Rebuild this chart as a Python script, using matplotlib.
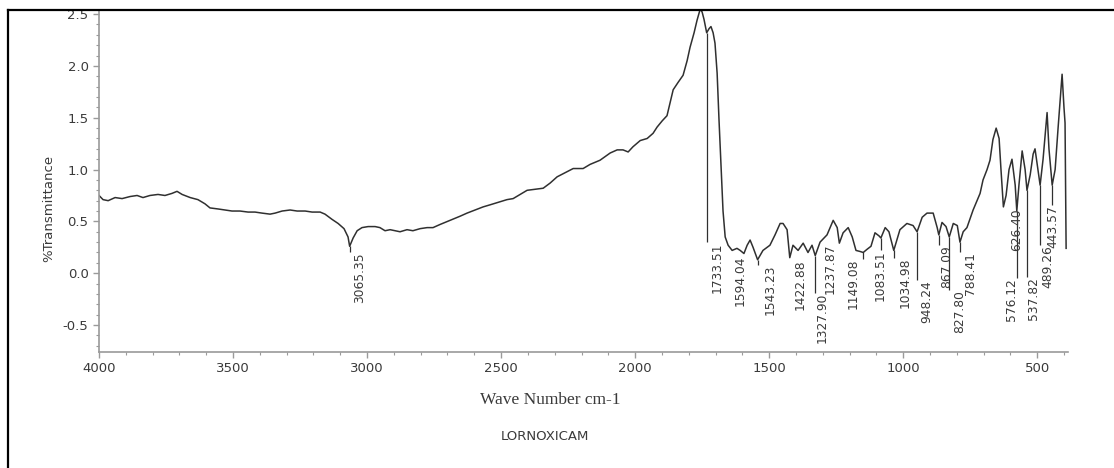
import matplotlib
matplotlib.use('Agg')
import matplotlib.pyplot as plt
from matplotlib.lines import Line2D
import numpy as np

# spectrum (wavenumber cm-1, %T)
wavenumber = [
    4000, 3985, 3966, 3940, 3914, 3884, 3858, 3836, 3810, 3780, 3754, 3728, 3709, 3690,
    3660, 3631, 3605, 3586, 3556, 3530, 3504, 3474, 3444, 3418, 3392, 3362, 3343, 3317,
    3287, 3261, 3231, 3205, 3175, 3157, 3131, 3108, 3086, 3071, 3065, 3052, 3037, 3019,
    2996, 2970, 2952, 2933, 2914, 2896, 2877, 2851, 2829, 2802, 2776, 2754, 2728, 2690,
    2653, 2627, 2597, 2567, 2541, 2504, 2478, 2455, 2429, 2403, 2373, 2343, 2317, 2291,
    2261, 2231, 2194, 2168, 2131, 2093, 2067, 2045, 2026, 2008, 1981, 1955, 1933, 1918,
    1899, 1881, 1869, 1858, 1840, 1821, 1806, 1795, 1780, 1769, 1757, 1750, 1743, 1733,
    1724, 1717, 1709, 1702, 1694, 1687, 1679, 1672, 1664, 1653, 1638, 1620, 1608, 1594,
    1582, 1571, 1560, 1543, 1523, 1497, 1478, 1459, 1448, 1433, 1423, 1411, 1392, 1373,
    1355, 1340, 1328, 1310, 1284, 1261, 1246, 1238, 1224, 1205, 1190, 1176, 1161, 1149,
    1135, 1120, 1105, 1090, 1083, 1067, 1053, 1035, 1012, 986, 963, 948, 929, 911,
    888, 873, 867, 855, 840, 828, 813, 798, 788, 776, 762, 739, 713, 702,
    687, 676, 665, 653, 642, 635, 626, 616, 605, 594, 582, 576, 568, 556,
    545, 538, 526, 515, 508, 500, 489, 478, 463, 456, 444, 433, 422, 407,
    400, 396, 392,
]
transmittance = [
    0.75, 0.71, 0.70, 0.73, 0.72, 0.74, 0.75, 0.73, 0.75, 0.76, 0.75, 0.77, 0.79, 0.76,
    0.73, 0.71, 0.67, 0.63, 0.62, 0.61, 0.60, 0.60, 0.59, 0.59, 0.58, 0.57, 0.58, 0.60,
    0.61, 0.60, 0.60, 0.59, 0.59, 0.57, 0.52, 0.48, 0.43, 0.35, 0.26, 0.34, 0.41, 0.44,
    0.45, 0.45, 0.44, 0.41, 0.42, 0.41, 0.40, 0.42, 0.41, 0.43, 0.44, 0.44, 0.47, 0.51,
    0.55, 0.58, 0.61, 0.64, 0.66, 0.69, 0.71, 0.72, 0.76, 0.80, 0.81, 0.82, 0.87, 0.93,
    0.97, 1.01, 1.01, 1.05, 1.09, 1.16, 1.19, 1.19, 1.17, 1.22, 1.28, 1.30, 1.35, 1.41,
    1.47, 1.52, 1.65, 1.77, 1.84, 1.91, 2.05, 2.18, 2.32, 2.44, 2.55, 2.52, 2.45, 2.32,
    2.36, 2.38, 2.32, 2.22, 1.93, 1.48, 1.00, 0.60, 0.35, 0.27, 0.22, 0.24, 0.22, 0.19,
    0.27, 0.32, 0.25, 0.13, 0.22, 0.27, 0.37, 0.48, 0.48, 0.42, 0.15, 0.27, 0.22, 0.29,
    0.20, 0.27, 0.17, 0.30, 0.37, 0.51, 0.44, 0.29, 0.39, 0.44, 0.35, 0.22, 0.21, 0.20,
    0.23, 0.26, 0.39, 0.36, 0.34, 0.44, 0.40, 0.22, 0.42, 0.48, 0.46, 0.40, 0.54, 0.58,
    0.58, 0.44, 0.37, 0.49, 0.45, 0.35, 0.48, 0.46, 0.30, 0.40, 0.44, 0.61, 0.77, 0.90,
    1.00, 1.09, 1.29, 1.40, 1.30, 1.00, 0.64, 0.75, 1.00, 1.10, 0.85, 0.60, 0.85, 1.18,
    1.00, 0.80, 0.95, 1.15, 1.20, 1.05, 0.85, 1.10, 1.55, 1.20, 0.85, 1.00, 1.40, 1.92,
    1.60, 1.45, 0.24,
]

# peak picks: position, value at the pick, where the label sits
peak_pos = [3065.35, 1733.51, 1594.04, 1543.23, 1422.88, 1327.90, 1237.87, 1149.08,
            1083.51, 1034.98, 948.24, 867.09, 827.80, 788.41, 626.40, 576.12,
            537.82, 489.26, 443.57]
peak_val = [0.26, 2.32, 0.19, 0.13, 0.15, 0.17, 0.29, 0.20,
            0.34, 0.22, 0.40, 0.37, 0.35, 0.30, 0.64, 0.60,
            0.80, 0.85, 0.85]
label_x = [3026, 1694, 1608, 1497, 1385, 1302, 1273, 1187,
           1086, 993, 911, 836, 788, 750, 575, 594,
           515, 459, 441]
label_top = [0.20, 0.30, 0.17, 0.08, 0.13, -0.19, 0.29, 0.14,
             0.22, 0.15, -0.07, 0.27, -0.16, 0.20, 0.63, -0.05,
             -0.04, 0.27, 0.66]

x_ticks = [4000, 3500, 3000, 2500, 2000, 1500, 1000, 500]
y_ticks = [-0.5, 0.0, 0.5, 1.0, 1.5, 2.0, 2.5]

GREY = '#9a9a9a'
TEXT = '#3a3a3a'

fig = plt.figure(figsize=(11.14, 4.68), dpi=100)
ax = fig.add_axes([0.0889, 0.2479, 0.8698, 0.7308])

ax.plot(wavenumber, transmittance, color='#303030', lw=1.1)

# pick marker lines down to the label when the label sits below the curve
for x, v, top in zip(peak_pos, peak_val, label_top):
    if top < v - 0.04:
        ax.vlines(x, top, v, color='#303030', lw=0.9)
for lx, top, p in zip(label_x, label_top, peak_pos):
    ax.text(lx, top, f'{p:.2f}', rotation=90, ha='center', va='top',
            fontsize=8.8, color=TEXT)

ax.set_xlim(4000, 385)
ax.set_ylim(-0.76, 2.54)
ax.set_xticks(x_ticks)
ax.set_xticklabels([str(t) for t in x_ticks])
ax.set_yticks(y_ticks)
ax.set_yticklabels([f'{t:.1f}' for t in y_ticks])
ax.set_xticks(np.arange(400, 4001, 100), minor=True)
ax.set_yticks(np.arange(-0.7, 2.55, 0.1), minor=True)

for side in ('top', 'right'):
    ax.spines[side].set_visible(False)
for side in ('left', 'bottom'):
    ax.spines[side].set_color(GREY)
    ax.spines[side].set_linewidth(1.2)
ax.tick_params(which='major', direction='out', length=4, color=GREY,
               labelsize=9.5, labelcolor=TEXT, width=1)
ax.tick_params(which='minor', direction='out', length=2, color=GREY, width=0.8)

ax.set_ylabel('%Transmittance', fontsize=9.5, color=TEXT)
ax.yaxis.set_label_coords(-0.045, 0.42)

fig.text(550 / 1114, 1 - 400 / 468, 'Wave Number cm-1', ha='center', va='center',
         family='Liberation Serif', fontsize=12.5, color=TEXT)
fig.text(545 / 1114, 1 - 437 / 468, 'LORNOXICAM', ha='center', va='center',
         fontsize=9.5, color=TEXT)

# outer frame: left and top edges only
fig.add_artist(Line2D([8 / 1114, 8 / 1114], [0, 1 - 10 / 468], color='black', lw=1.6,
                      transform=fig.transFigure))
fig.add_artist(Line2D([8 / 1114, 1], [1 - 10 / 468, 1 - 10 / 468], color='black', lw=1.6,
                      transform=fig.transFigure))

fig.savefig('out.png', dpi=100)
